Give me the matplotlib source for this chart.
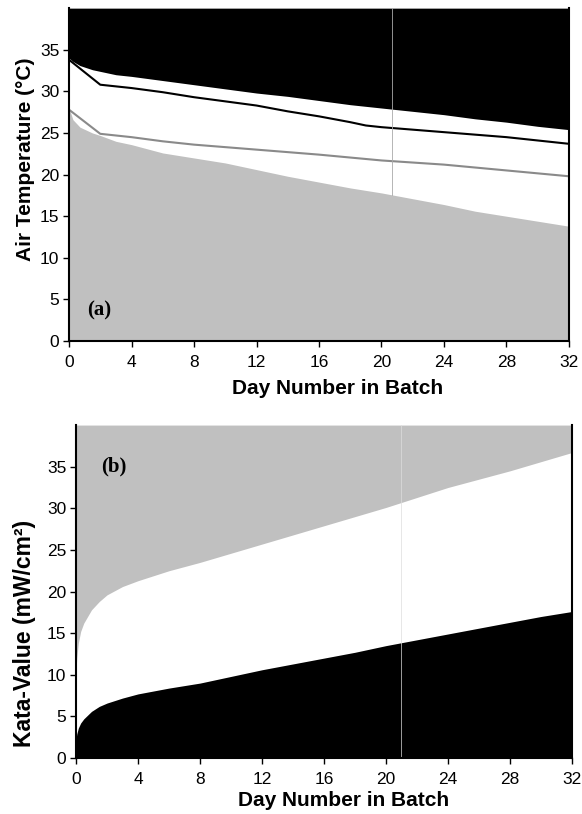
import matplotlib
matplotlib.use("Agg")
import matplotlib.pyplot as plt

plt.rcParams['font.family'] = ['Liberation Sans', 'DejaVu Sans']

# (a) air temperature envelope and lines
days_a = [0, 0.25, 0.7, 1.5, 2, 3, 4, 6, 8, 10, 12, 14, 16, 18, 20, 22, 24, 26, 28, 30, 32]
upper_a = [34.0, 33.6, 33.1, 32.6, 32.4, 32.0, 31.8, 31.3, 30.8, 30.3, 29.8, 29.4, 28.9, 28.4, 28.0, 27.6, 27.2, 26.7, 26.3, 25.8, 25.4]
low_a = [28.0, 26.6, 25.7, 25.0, 24.7, 24.0, 23.6, 22.6, 22.0, 21.4, 20.6, 19.8, 19.1, 18.4, 17.8, 17.1, 16.4, 15.6, 15.0, 14.4, 13.8]

days_black = [0, 2, 4, 6, 8, 10, 12, 14, 16, 18, 19, 20, 22, 24, 26, 28, 30, 32]
black_line = [33.8, 30.8, 30.4, 29.9, 29.3, 28.8, 28.3, 27.6, 27.0, 26.3, 25.9, 25.7, 25.4, 25.1, 24.8, 24.5, 24.1, 23.7]

days_gray = [0, 2, 4, 6, 8, 12, 16, 20, 24, 28, 32]
gray_line = [27.8, 24.9, 24.5, 24.0, 23.6, 23.0, 22.4, 21.7, 21.2, 20.5, 19.8]

# (b) kata-value envelope
days_b = [0, 0.05, 0.15, 0.3, 0.5, 1, 1.5, 2, 3, 4, 6, 8, 10, 12, 14, 16, 18, 20, 22, 24, 26, 28, 30, 32]
upper_b = [10.5, 12.0, 13.8, 15.2, 16.2, 17.8, 18.8, 19.6, 20.6, 21.3, 22.5, 23.5, 24.6, 25.7, 26.8, 27.9, 29.0, 30.1, 31.3, 32.5, 33.5, 34.5, 35.6, 36.7]
lower_b = [2.2, 2.9, 3.6, 4.2, 4.7, 5.6, 6.2, 6.6, 7.2, 7.7, 8.4, 9.0, 9.8, 10.6, 11.3, 12.0, 12.7, 13.5, 14.2, 14.9, 15.6, 16.3, 17.0, 17.6]

xticks = [0, 4, 8, 12, 16, 20, 24, 28, 32]
yticks = [0, 5, 10, 15, 20, 25, 30, 35]

fig = plt.figure(figsize=(5.82, 8.14), dpi=100)
ax1 = fig.add_axes([0.1186, 0.581, 0.859, 0.409])
ax2 = fig.add_axes([0.1306, 0.0688, 0.852, 0.409])

gray = '#c0c0c0'

# panel a
ax1.fill_between(days_a, upper_a, 40, color='black', lw=0)
ax1.fill_between(days_a, 0, low_a, color=gray, lw=0)
ax1.plot(days_black, black_line, color='black', lw=1.5)
ax1.plot(days_gray, gray_line, color='#8a8a8a', lw=1.5)
ax1.axvline(20.7, ymin=17.6 / 40, color='#aaaaaa', lw=0.6)
ax1.text(1.15, 3.7, '(a)', family='Liberation Serif', fontweight='bold', fontsize=15, va='center')

# panel b
ax2.fill_between(days_b, upper_b, 40, color=gray, lw=0)
ax2.fill_between(days_b, 0, lower_b, color='black', lw=0)
ax2.axvline(21.0, color='#dddddd', lw=0.5)
ax2.text(1.65, 35, '(b)', family='Liberation Serif', fontweight='bold', fontsize=15, va='center')

for ax in (ax1, ax2):
    ax.set_xlim(0, 32)
    ax.set_ylim(0, 40)
    ax.set_xticks(xticks)
    ax.set_yticks(yticks)
    ax.tick_params(labelsize=12.5, length=4, width=1, direction='out', pad=3)
    ax.tick_params(axis='x', pad=6)
    for s in ax.spines.values():
        s.set_linewidth(1.5)
    ax.spines['top'].set_visible(False)

# axis titles
fig.text(338 / 582, 1 - 389 / 814, 'Day Number in Batch', fontsize=15, fontweight='bold', ha='center', va='center')
fig.text(344 / 582, 1 - 800 / 814, 'Day Number in Batch', fontsize=15, fontweight='bold', ha='center', va='center')
fig.text(26 / 582, 1 - 159 / 814, 'Air Temperature (°C)', fontsize=15, fontweight='bold',
         rotation=90, ha='center', va='center')
fig.text(25 / 582, 1 - 633 / 814, 'Kata-Value (mW/cm²)', fontsize=16.5, fontweight='bold',
         rotation=90, ha='center', va='center')

fig.savefig('out.png', dpi=100)
